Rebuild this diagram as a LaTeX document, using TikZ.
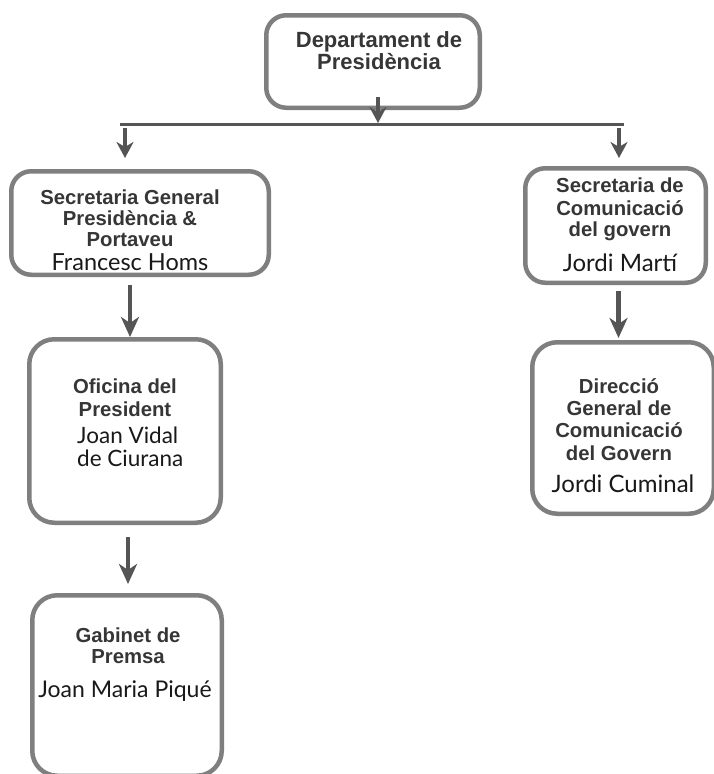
\documentclass[tikz,border=0pt]{standalone}
\usepackage{fontspec}
\setmainfont{Liberation Sans}
\newfontfamily\latofont{Lato}
\usetikzlibrary{arrows.meta}
\definecolor{boxgray}{HTML}{7F7F7F}
\definecolor{arrgray}{HTML}{555555}
\definecolor{txtgray}{HTML}{363636}
\begin{document}
\begin{tikzpicture}[x=1pt,y=-1pt,
  box/.style={draw=boxgray,line width=4.5pt,rounded corners=20pt,fill=white,inner sep=0pt},
  ttl/.style={font=\fontsize{20.3}{21.5}\selectfont\bfseries,text=txtgray,align=center,inner sep=0pt,anchor=base},
  bigttl/.style={ttl,font=\fontsize{22}{22}\selectfont\bfseries},
  nm/.style={font=\latofont\fontsize{23}{25}\selectfont,text=black!90,inner sep=0pt,anchor=base},
  arr/.style={draw=arrgray,line width=4.5pt,-{Stealth[length=20pt,width=18pt,inset=6pt]}},
  smallarr/.style={draw=arrgray,line width=4pt,-{Stealth[length=16pt,width=17pt,inset=5pt]}},
  barline/.style={draw=arrgray,line width=3pt}]
\useasboundingbox (0,0) rectangle (713,774);
% boxes
\node[box,minimum width=213.5pt,minimum height=92.5pt] (dep) at (373,61.5) {};
\node[box,minimum width=257.5pt,minimum height=103.5pt] (sg) at (140,223) {};
\node[box,minimum width=180.5pt,minimum height=114.5pt] (sc) at (615.5,225.5) {};
\node[box,minimum width=191.5pt,minimum height=183.5pt,rounded corners=25pt] (of) at (125,431) {};
\node[box,minimum width=189.5pt,minimum height=180.5pt,rounded corners=25pt] (gp) at (127,685.5) {};
\node[box,minimum width=181.5pt,minimum height=171.5pt,rounded corners=25pt] (dg) at (623,428) {};
% texts
\node[bigttl] (t1a) at (379,47) {Departament de};
\node[bigttl] (t1b) at (379,69) {Presidència};
\node[ttl] (t2a) at (130,204) {Secretaria General};
\node[ttl] (t2b) at (130,225) {Presidència \&};
\node[ttl] (t2c) at (130,246) {Portaveu};
\node[nm,font=\latofont\fontsize{23.5}{25}\selectfont] (n2) at (130,270) {Francesc Homs};
\node[ttl] (t3a) at (620,192) {Secretaria de};
\node[ttl] (t3b) at (620,215) {Comunicació};
\node[ttl] (t3c) at (620,236) {del govern};
\node[nm,font=\latofont\fontsize{24}{24}\selectfont] (n3) at (620,271) {Jordi Martí};
\node[ttl] (t4a) at (125,393) {Oficina del};
\node[ttl] (t4b) at (125,416) {President};
\node[nm,anchor=base west,font=\latofont\fontsize{22.5}{25}\selectfont] (n4a) at (77,443) {Joan Vidal};
\node[nm,anchor=base west,font=\latofont\fontsize{22.5}{25}\selectfont] (n4b) at (77,466) {de Ciurana};
\node[ttl] (t5a) at (128,642) {Gabinet de};
\node[ttl] (t5b) at (128,663) {Premsa};
\node[nm] (n5) at (125,697) {Joan Maria Piqué};
\node[ttl] (t6a) at (619,393) {Direcció};
\node[ttl] (t6b) at (619,415) {General de};
\node[ttl] (t6c) at (619,437) {Comunicació};
\node[ttl] (t6d) at (619,460) {del Govern};
\node[nm,font=\latofont\fontsize{24}{24}\selectfont] (n6) at (623,492) {Jordi Cuminal};
% bar and connectors
\coordinate (barL) at (120,124);
\coordinate (barR) at (624,124);
\coordinate (barM) at (378,124);
\coordinate (brL) at (125,124);
\coordinate (brR) at (619,124);
\draw[barline] (barL) -- (barR);
\draw[smallarr] ([xshift=5pt,yshift=13pt]dep.south) -- ([yshift=1pt]barM);
\draw[smallarr,shorten <=4pt,shorten >=11pt] (brL) -- (brL |- sg.north);
\draw[smallarr,shorten <=4pt,shorten >=8pt] (brR) -- (brR |- sc.north);
\draw[arr,shorten <=8pt] ([xshift=-10pt]sg.south) -- ([xshift=-10pt]sg.south |- of.north);
\draw[arr,shorten <=6pt,shorten >=2pt] ([xshift=3pt]sc.south) -- ([xshift=3pt]sc.south |- dg.north);
\draw[arr,shorten <=12pt,shorten >=9pt] ([xshift=3pt]of.south) -- ([xshift=3pt]of.south |- gp.north);
\end{tikzpicture}
\end{document}
